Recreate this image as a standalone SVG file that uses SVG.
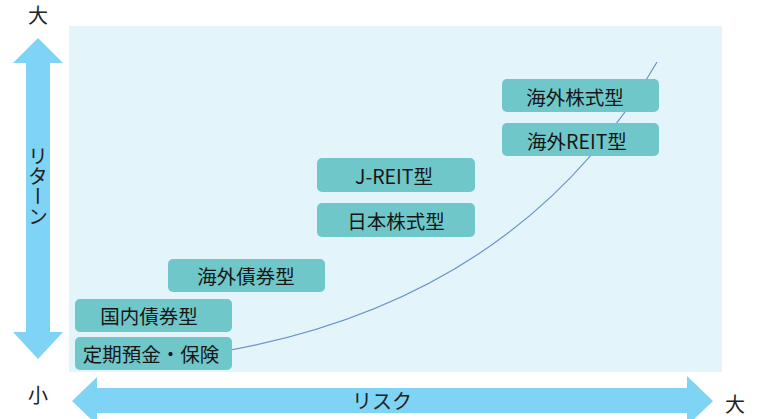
<svg xmlns="http://www.w3.org/2000/svg" width="759" height="419" viewBox="0 0 759 419">
<style>
.lbl{font-family:"Noto Sans CJK JP","Noto Sans",sans-serif;font-size:19.5px;fill:#161616;text-anchor:middle;dominant-baseline:central}
.ax{font-family:"Noto Sans CJK JP","Noto Sans",sans-serif;font-size:20px;fill:#222;text-anchor:middle;dominant-baseline:central}
.box{fill:#6FC7C9}
.arr{fill:#7FD4F6}
</style>
<rect width="759" height="419" fill="#ffffff"/>
<rect id="panel" x="69" y="26" width="653" height="346" fill="#E3F4FB"/>
<g id="return-axis">
<polygon class="arr" points="38,38 63,63 50,63 50,332 63,332 38,359 13,332 26,332 26,63 13,63"/>
<text class="ax" x="38" y="14">大</text>
<text class="ax" x="38" y="394">小</text>
<text class="ax" x="38" y="186" style="writing-mode:vertical-rl;dominant-baseline:auto">リターン</text>
</g>
<g id="risk-axis">
<polygon class="arr" points="72,401 97,377 97,388 687,388 687,376 713,401 687,426 687,413 97,413 97,425"/>
<text class="ax" x="382" y="400">リスク</text>
<text class="ax" x="735" y="403">大</text>
</g>
<g id="connectors">
<path d="M220,352 Q520,300 657,62" fill="none" stroke="#6B93C9" stroke-width="1.2"/>
</g>
<g id="n1"><rect class="box" x="75" y="337" width="157" height="33" rx="5"/><text class="lbl" x="151" y="353">定期預金・保険</text></g>
<g id="n2"><rect class="box" x="75" y="299" width="157" height="33" rx="5"/><text class="lbl" x="149" y="315">国内債券型</text></g>
<g id="n3"><rect class="box" x="168" y="259" width="157" height="33" rx="5"/><text class="lbl" x="246" y="275">海外債券型</text></g>
<g id="n4"><rect class="box" x="317" y="158" width="158" height="34" rx="5"/><text class="lbl" x="394" y="175">J-REIT型</text></g>
<g id="n5"><rect class="box" x="317" y="203" width="158" height="34" rx="5"/><text class="lbl" x="396" y="220">日本株式型</text></g>
<g id="n6"><rect class="box" x="502" y="79" width="157" height="33" rx="5"/><text class="lbl" x="575" y="96">海外株式型</text></g>
<g id="n7"><rect class="box" x="502" y="123" width="157" height="33" rx="5"/><text class="lbl" x="577" y="140">海外REIT型</text></g>
</svg>
